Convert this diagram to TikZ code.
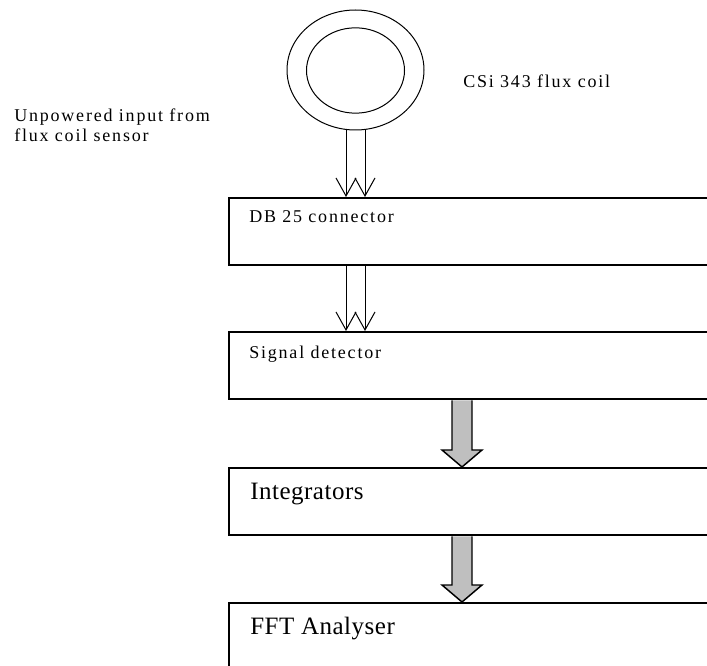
\documentclass[tikz,border=0pt]{standalone}
\usepackage{fontspec}
\setmainfont{Liberation Serif}
\newfontfamily\smallspaced[LetterSpace=10]{Liberation Serif}
\newfontfamily\largespaced[LetterSpace=2]{Liberation Serif}
\usetikzlibrary{positioning, arrows.meta, calc, shapes.geometric}

\begin{document}
\begin{tikzpicture}[x=0.75pt, y=-0.75pt,
    block/.style={draw, line width=1.5pt, anchor=north west, minimum width=375pt, minimum height=50.5pt, inner sep=0pt},
    smalltext/.style={anchor=base west, inner sep=0pt, font=\smallspaced\fontsize{13.5}{15}\selectfont},
    largetext/.style={anchor=base west, inner sep=0pt, font=\largespaced\fontsize{18.75}{22}\selectfont},
    ring/.style={draw, ellipse, line width=0.75pt, inner sep=0pt},
    thinarrow/.style={line width=0.75pt, -{Straight Barb[length=13.5pt, width=15pt]}},
    fatarrow/.style={draw, line width=1.1pt, fill=gray!50, line join=miter}]
    \useasboundingbox (0,0) rectangle (707,666);
    \clip (0,0) rectangle (707,666);

    % flux coil
    \node[ring, minimum width=102.75pt, minimum height=90pt] (coil) at (355.5,70) {};
    \node[ring, minimum width=73.5pt, minimum height=64pt] (coilin) at (355.5,70.5) {};
    \node[smalltext] (coillabel) at (463,88) {CSi 343 flux coil};
    \node[smalltext, align=left] (inputlabel) at (14,142) {Unpowered input from\\flux coil sensor};

    % blocks
    \node[block] (db) at (228,197) {};
    \node[block] (det) at (228,331) {};
    \node[block] (integ) at (228,467) {};
    \node[block] (fft) at (228,602) {};

    \node[smalltext] (dbtext) at ($(db.north west)+(21,26)$) {DB 25 connector};
    \node[smalltext] (dettext) at ($(det.north west)+(21,28)$) {Signal detector};
    \node[largetext] (integtext) at ($(integ.north west)+(22,32)$) {Integrators};
    \node[largetext] (ffttext) at ($(fft.north west)+(22,32)$) {FFT Analyser};

    % unpowered pairs
    \draw[thinarrow] ($(coil.south)+(-9.5,0)$) -- ($(coil.south |- db.north)+(-9.5,0)$);
    \draw[thinarrow] ($(coil.south)+(9.5,0)$) -- ($(coil.south |- db.north)+(9.5,0)$);
    \draw[thinarrow] ($(coil.south |- db.south)+(-9.5,0)$) -- ($(coil.south |- det.north)+(-9.5,0)$);
    \draw[thinarrow] ($(coil.south |- db.south)+(9.5,0)$) -- ($(coil.south |- det.north)+(9.5,0)$);

    % block arrows
    \draw[fatarrow] ($(det.south west)+(224,0)$) -- ($(integ.north west)+(224,-17)$) -- ++(-10,0)
        -- ($(integ.north west)+(234,0)$) -- ++(20,-17) -- ++(-10,0) -- ($(det.south west)+(244,0)$);
    \draw[fatarrow] ($(integ.south west)+(224,0)$) -- ($(fft.north west)+(224,-17)$) -- ++(-10,0)
        -- ($(fft.north west)+(234,0)$) -- ++(20,-17) -- ++(-10,0) -- ($(integ.south west)+(244,0)$);
\end{tikzpicture}
\end{document}
